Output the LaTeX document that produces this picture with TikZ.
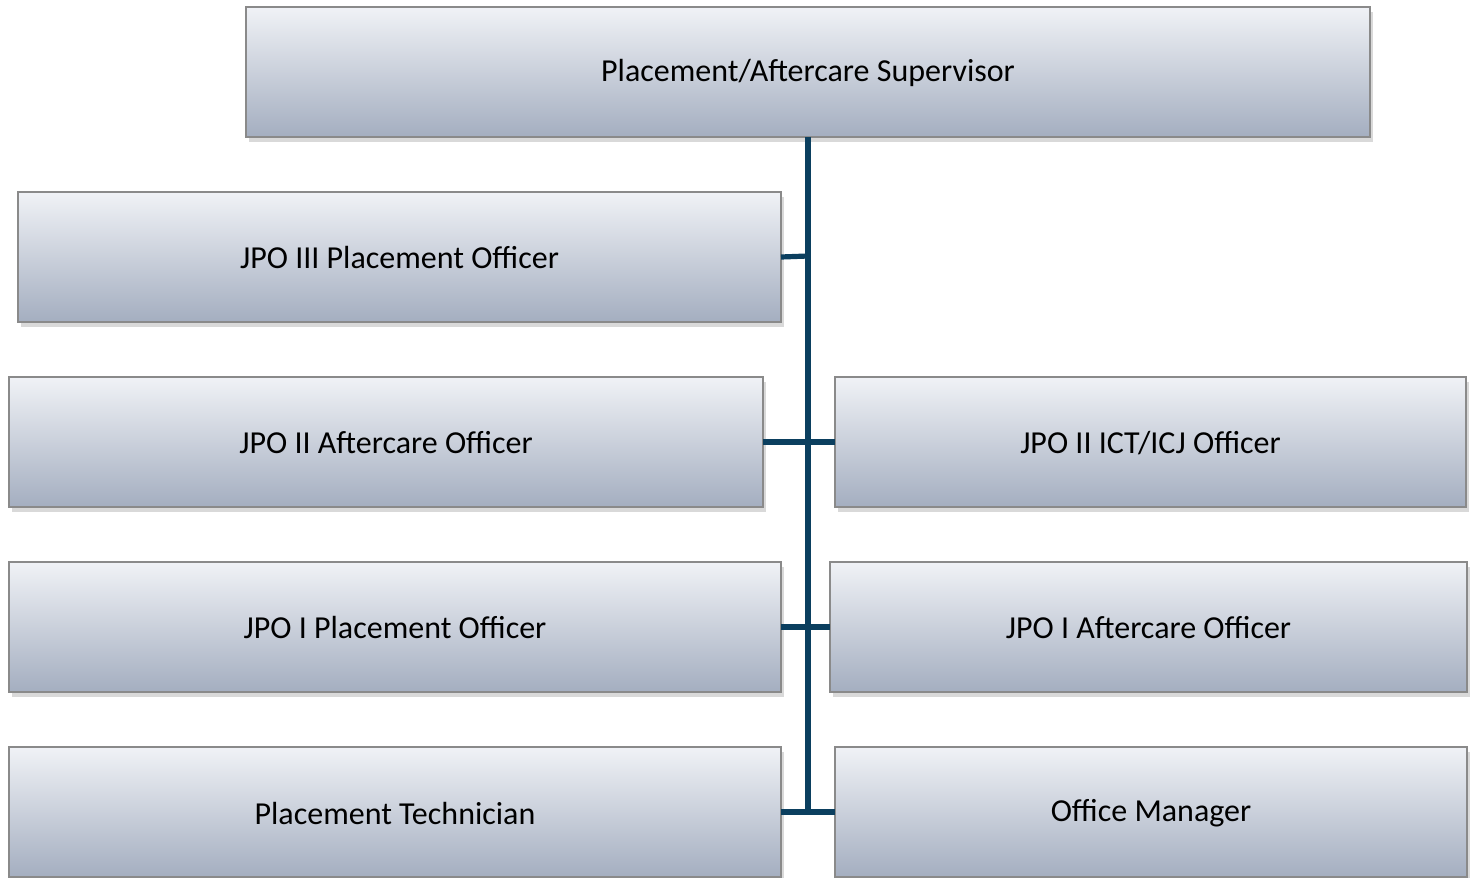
\documentclass[tikz,border=0pt]{standalone}
\usepackage{fontspec}
\setmainfont{Carlito}
\usetikzlibrary{shadows}
\definecolor{linkc}{HTML}{0B3F5F}
\definecolor{boxtop}{HTML}{F0F2F6}
\definecolor{boxbot}{HTML}{A4AEC0}
\definecolor{boxedge}{HTML}{8A8A8A}
\tikzset{
  orgbox/.style={draw=boxedge, line width=1pt, top color=boxtop, bottom color=boxbot,
    drop shadow={shadow xshift=1.5pt, shadow yshift=-2.5pt, opacity=0.25, fill=black!60}},
  orglabel/.style={font=\fontsize{16}{18}\selectfont, text=black, inner sep=0pt},
  link/.style={draw=linkc, line width=2.6pt}
}
\newcommand{\obox}[6]{% name, x1, y1, x2, y2, text
  \path[orgbox] (#2,#3) rectangle (#4,#5);
  \node[orglabel] (#1) at ({(#2+#4)/2},{(#3+#5)/2+1}) {#6};
  \coordinate (#1-w) at (#2,{(#3+#5)/2});
  \coordinate (#1-e) at (#4,{(#3+#5)/2});
}
\begin{document}
\begin{tikzpicture}[x=0.5pt,y=-0.5pt]
\useasboundingbox (0,0) rectangle (1473,878);
\obox{sup}{246}{7}{1370}{137}{Placement/Aftercare Supervisor}
\obox{p3}{18}{192}{781}{322}{JPO III Placement Officer}
\obox{a2}{9}{377}{763}{507}{JPO II Aftercare Officer}
\obox{ict}{835}{377}{1466}{507}{JPO II ICT/ICJ Officer}
\obox{p1}{9}{562}{781}{692}{JPO I Placement Officer}
\obox{a1}{830}{562}{1467}{692}{JPO I Aftercare Officer}
\obox{tech}{9}{747}{781}{877}{Placement Technician}
\obox{om}{835}{747}{1467}{877}{Office Manager}
\coordinate (top) at (808,137);
\coordinate (bot) at (808,811);
\draw[link] (top) -- (bot);
\draw[link] (p3-e) -- (808,256);
\draw[link] (a2-e) -- (ict-w);
\draw[link] (p1-e) -- (a1-w);
\draw[link] (tech-e) -- (om-w);
\end{tikzpicture}
\end{document}
